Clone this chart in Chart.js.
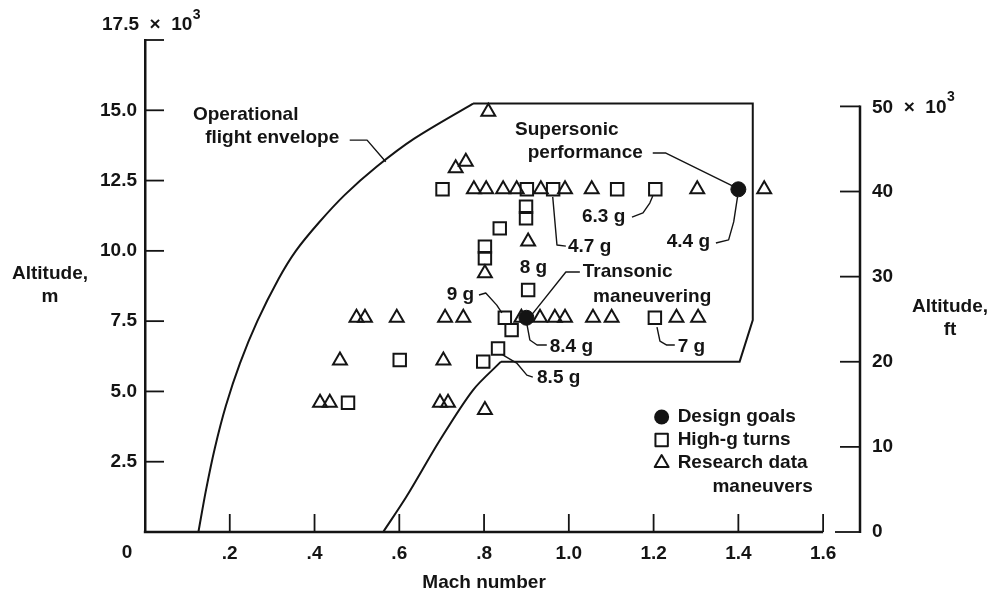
<!DOCTYPE html>
<html><head><meta charset="utf-8">
<script src="https://cdn.jsdelivr.net/npm/chart.js@4.4.0/dist/chart.umd.min.js"></script>
<style>html,body{margin:0;padding:0;background:#fff;}canvas{display:block;}</style>
</head><body>
<canvas id="c" width="994" height="598"></canvas>
<script>
// ---------- data (Mach number, altitude in m x 10^3) ----------
const designMach = [0.90, 1.40];
const designAlt  = [7.62, 12.19];

const turnMach = [0.702, 0.901, 0.963, 1.114, 1.204, 0.899, 0.899, 0.837, 0.802, 0.802, 0.904, 0.849, 1.203, 0.865, 0.833, 0.798, 0.601, 0.479];
const turnAlt  = [12.19, 12.19, 12.19, 12.19, 12.19, 11.57, 11.16, 10.80, 10.15, 9.74, 8.61, 7.62, 7.62, 7.18, 6.53, 6.06, 6.12, 4.60];

const researchMach = [0.776, 0.805, 0.845, 0.877, 0.934, 0.991, 1.054, 1.303, 1.461,
                      0.733, 0.757, 0.810, 0.904, 0.802,
                      0.499, 0.519, 0.594, 0.708, 0.751, 0.888, 0.932, 0.967, 0.991, 1.057, 1.101, 1.254, 1.305,
                      0.460, 0.704, 0.413, 0.436, 0.696, 0.715, 0.802];
const researchAlt  = [12.19, 12.19, 12.19, 12.19, 12.19, 12.19, 12.19, 12.19, 12.19,
                      12.94, 13.17, 14.95, 10.33, 9.20,
                      7.62, 7.62, 7.62, 7.62, 7.62, 7.62, 7.62, 7.62, 7.62, 7.62, 7.62, 7.62, 7.62,
                      6.10, 6.10, 4.60, 4.60, 4.60, 4.60, 4.34];

// operational flight envelope boundary
const envLeftMach = [0.126, 0.144, 0.165, 0.191, 0.224, 0.265, 0.315, 0.356, 0.410, 0.472, 0.547, 0.636, 0.774];
const envLeftAlt  = [0.00, 1.50, 3.00, 4.50, 6.00, 7.50, 9.00, 10.00, 11.00, 12.00, 13.00, 14.00, 15.24];
const envEdgeMach = [0.774, 1.434, 1.434, 1.403, 0.840];
const envEdgeAlt  = [15.24, 15.24, 7.54, 6.06, 6.06];
const envLowMach  = [0.840, 0.774, 0.696, 0.617, 0.562];
const envLowAlt   = [6.06, 5.05, 3.27, 1.26, 0.00];

// ticks
const machTicks = [0.2, 0.4, 0.6, 0.8, 1.0, 1.2, 1.4, 1.6];
const machTickLabels = ['.2', '.4', '.6', '.8', '1.0', '1.2', '1.4', '1.6'];
const altMTicks = [2.5, 5, 7.5, 10, 12.5, 15, 17.5];
const altMTickLabels = ['2.5', '5.0', '7.5', '10.0', '12.5', '15.0', ''];
const altFtTicks = [0, 10, 20, 30, 40, 50];
const altFtTickLabels = ['0', '10', '20', '30', '40', ''];

// ---------- styling / layout ----------
const FONT = "'Liberation Sans', Arial, Helvetica, sans-serif";
const INK = '#141414';
const MACH_MAX = 1.687;
const FT_MAX = 57.8;

const notes = [
  {text: 'Operational', m: 0.113, a: 14.83},
  {text: 'flight envelope', m: 0.142, a: 14.01},
  {text: 'Supersonic', m: 0.873, a: 14.30},
  {text: 'performance', m: 0.903, a: 13.48},
  {text: '6.3 g', m: 1.031, a: 11.20},
  {text: '4.7 g', m: 0.998, a: 10.14},
  {text: '4.4 g', m: 1.231, a: 10.32},
  {text: '8 g', m: 0.884, a: 9.39},
  {text: 'Transonic', m: 1.033, a: 9.25},
  {text: 'maneuvering', m: 1.057, a: 8.36},
  {text: '9 g', m: 0.712, a: 8.43},
  {text: '8.4 g', m: 0.955, a: 6.58},
  {text: '7 g', m: 1.257, a: 6.58},
  {text: '8.5 g', m: 0.925, a: 5.48}
];
const leaders = [
  [[0.483, 13.94], [0.524, 13.94], [0.568, 13.17]],
  [[1.198, 13.48], [1.229, 13.48], [1.392, 12.27]],
  [[1.149, 11.20], [1.175, 11.35], [1.191, 11.70], [1.198, 11.95]],
  [[0.962, 11.92], [0.972, 10.21], [0.993, 10.17]],
  [[1.347, 10.28], [1.377, 10.39], [1.389, 11.03], [1.398, 11.92]],
  [[1.026, 9.25], [0.993, 9.25], [0.910, 7.68]],
  [[0.788, 8.43], [0.804, 8.50], [0.830, 8.07], [0.842, 7.79]],
  [[0.901, 7.40], [0.908, 6.83], [0.925, 6.65], [0.948, 6.65]],
  [[1.208, 7.29], [1.215, 6.79], [1.231, 6.65], [1.250, 6.65]],
  [[0.844, 6.30], [0.877, 6.01], [0.901, 5.58], [0.915, 5.51]]
];
const legendItems = [
  {style: 'circle', text: 'Design goals'},
  {style: 'rect', text: 'High-g turns'},
  {style: 'triangle', text: 'Research data'}
];

function pts(xs, ys) { return xs.map((x, i) => ({x: x, y: ys[i]})); }
const f19 = 'bold 19px ' + FONT;

function drawMark(ctx, style, x, y) {
  ctx.beginPath();
  if (style === 'circle') {
    ctx.arc(x, y, 7.5, 0, Math.PI * 2); ctx.fill();
  } else if (style === 'rect') {
    ctx.lineWidth = 2; ctx.strokeRect(x - 6.2, y - 6.2, 12.4, 12.4);
  } else {
    ctx.lineWidth = 2;
    ctx.moveTo(x, y - 8); ctx.lineTo(x + 6.93, y + 4); ctx.lineTo(x - 6.93, y + 4); ctx.closePath(); ctx.stroke();
  }
}

const decor = {
  id: 'decor',
  afterDraw(chart) {
    const ctx = chart.ctx;
    const sx = chart.scales.x, sy = chart.scales.y, sf = chart.scales.y2;
    const X = v => sx.getPixelForValue(v), Y = v => sy.getPixelForValue(v), F = v => sf.getPixelForValue(v);
    const line = (x1, y1, x2, y2) => { ctx.beginPath(); ctx.moveTo(x1, y1); ctx.lineTo(x2, y2); ctx.stroke(); };
    ctx.save();
    ctx.strokeStyle = INK; ctx.fillStyle = INK; ctx.lineCap = 'butt';
    // axes lines
    ctx.lineWidth = 2.5;
    line(X(0) - 1.2, Y(0), X(1.6), Y(0));
    const rx = sf.left;
    line(rx, F(0) + 1, rx, F(50) - 1);
    // inward tick marks
    ctx.lineWidth = 1.8;
    sx.ticks.forEach(t => line(X(t.value), Y(0), X(t.value), Y(0) - 18));
    sy.ticks.forEach(t => line(X(0), Y(t.value), X(0) + 19, Y(t.value)));
    sf.ticks.forEach(t => line(rx, F(t.value), rx - (t.value === 0 ? 25 : 20), F(t.value)));
    // axis head labels
    ctx.font = f19; ctx.textBaseline = 'middle'; ctx.textAlign = 'left';
    let s = '17.5  \u00d7  10';
    ctx.fillText(s, 102, 25);
    let w = ctx.measureText(s).width;
    ctx.font = 'bold 14px ' + FONT; ctx.fillText('3', 102 + w + 0.5, 15);
    ctx.font = f19;
    s = '50  \u00d7  10';
    ctx.fillText(s, rx + 12, F(50) + 1);
    w = ctx.measureText(s).width;
    ctx.font = 'bold 14px ' + FONT; ctx.fillText('3', rx + 12 + w + 0.5, F(50) - 9);
    ctx.font = f19;
    ctx.textAlign = 'center';
    ctx.fillText('0', X(0) - 18, Y(0) + 21);
    // axis titles
    ctx.fillText('Altitude,', 50, 274);
    ctx.fillText('m', 50, 297);
    ctx.fillText('Altitude,', 950, 307);
    ctx.fillText('ft', 950, 330);
    ctx.fillText('Mach number', X(0.8), 583);
    // annotations
    ctx.textAlign = 'left';
    notes.forEach(n => ctx.fillText(n.text, X(n.m), Y(n.a)));
    ctx.lineWidth = 1.4; ctx.lineJoin = 'round';
    leaders.forEach(p => {
      ctx.beginPath();
      p.forEach((q, i) => { const px = X(q[0]), py = Y(q[1]); if (i) ctx.lineTo(px, py); else ctx.moveTo(px, py); });
      ctx.stroke();
    });
    // legend
    const lx = X(1.219), ly = Y(4.09);
    legendItems.forEach((it, i) => {
      drawMark(ctx, it.style, lx, ly + i * 23);
      ctx.fillText(it.text, lx + 16, ly + i * 23);
    });
    ctx.textAlign = 'center';
    ctx.fillText('maneuvers', lx + 101, ly + 70);
    ctx.restore();
  }
};

new Chart(document.getElementById('c'), {
  type: 'scatter',
  data: {
    datasets: [
      {label: 'Design goals', data: pts(designMach, designAlt), pointStyle: 'circle', pointRadius: 7.5,
       backgroundColor: INK, borderColor: INK, borderWidth: 1},
      {label: 'High-g turns', data: pts(turnMach, turnAlt), pointStyle: 'rect', pointRadius: 8.8,
       backgroundColor: 'rgba(0,0,0,0)', borderColor: INK, borderWidth: 2},
      {label: 'Research data maneuvers', data: pts(researchMach, researchAlt), pointStyle: 'triangle', pointRadius: 8,
       backgroundColor: 'rgba(0,0,0,0)', borderColor: INK, borderWidth: 2},
      {label: 'Operational flight envelope', data: pts(envLeftMach, envLeftAlt), showLine: true, pointRadius: 0,
       borderColor: INK, borderWidth: 2, tension: 0.3, fill: false},
      {label: 'Envelope edge', data: pts(envEdgeMach, envEdgeAlt), showLine: true, pointRadius: 0,
       borderColor: INK, borderWidth: 2, tension: 0, fill: false},
      {label: 'Envelope lower', data: pts(envLowMach, envLowAlt), showLine: true, pointRadius: 0,
       borderColor: INK, borderWidth: 2, tension: 0.3, fill: false}
    ]
  },
  options: {
    responsive: false, animation: false, devicePixelRatio: 1, events: [],
    layout: {padding: {top: 40, left: 0, right: 0, bottom: 0}},
    plugins: {legend: {display: false}, tooltip: {enabled: false}},
    scales: {
      x: {
        type: 'linear', position: 'bottom', min: 0, max: MACH_MAX,
        grid: {display: false, drawTicks: false}, border: {display: false},
        afterBuildTicks: s => { s.ticks = machTicks.map(v => ({value: v})); },
        ticks: {autoSkip: false, maxRotation: 0, padding: 10, color: INK,
                font: {family: FONT, size: 19, weight: 'bold'},
                callback: (v, i) => machTickLabels[i]},
        afterFit: s => { s.height = 66; }
      },
      y: {
        type: 'linear', position: 'left', min: 0, max: 17.5,
        grid: {display: false, drawTicks: false}, border: {display: true, color: INK, width: 2.5},
        afterBuildTicks: s => { s.ticks = altMTicks.map(v => ({value: v})); },
        ticks: {autoSkip: false, padding: 8, color: INK, font: {family: FONT, size: 19, weight: 'bold'},
                callback: (v, i) => altMTickLabels[i]},
        afterFit: s => { s.width = 145; }
      },
      y2: {
        type: 'linear', position: 'right', min: 0, max: FT_MAX,
        grid: {display: false, drawTicks: false}, border: {display: false},
        afterBuildTicks: s => { s.ticks = altFtTicks.map(v => ({value: v})); },
        ticks: {autoSkip: false, padding: 12, color: INK, font: {family: FONT, size: 19, weight: 'bold'},
                callback: (v, i) => altFtTickLabels[i]},
        afterFit: s => { s.width = 134; }
      }
    }
  },
  plugins: [decor]
});
</script>
</body></html>
